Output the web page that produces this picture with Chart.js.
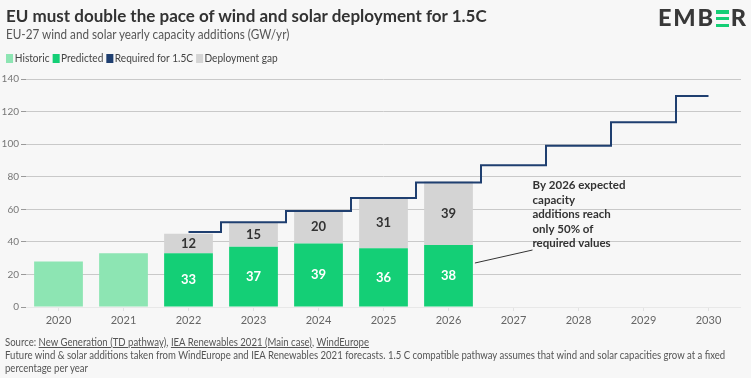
<!DOCTYPE html>
<html>
<head>
<meta charset="utf-8">
<script src="https://cdn.jsdelivr.net/npm/chart.js@4.4.0/dist/chart.umd.min.js"></script>
<style>
  body { margin: 0; background: #f7f7f7; font-family: Lato, "Noto Sans", sans-serif; }
  #wrap { position: relative; width: 751px; height: 378px; overflow: hidden; background: #f7f7f7; }
  #c { position: absolute; left: 0; top: 0; }
  .title { position: absolute; left: 6px; top: 5px; font-size: 17px; font-weight: 700; color: #333; white-space: nowrap; }
  .sub { position: absolute; left: 6px; top: 26px; font-size: 13px; color: #555; white-space: nowrap; transform: scaleX(0.9); transform-origin: 0 0; }
  .legend { position: absolute; left: 6px; top: 51px; font-size: 11.5px; color: #444; white-space: nowrap; transform: scaleX(0.88); transform-origin: 0 0; }
  .legend span.sw { display: inline-block; width: 8px; height: 9px; vertical-align: -1px; margin-right: 2px; }
  .legend span.it { margin-right: 3px; }
  .logo { position: absolute; left: 658px; top: 3px; font-size: 23.5px; font-weight: 900; color: #383838; letter-spacing: 1.8px; white-space: nowrap; }
  .logo .ge { display: inline-block; width: 13px; height: 17px; position: relative; margin: 0 2px 0 1px; vertical-align: -1px; }
  .logo .ge i { position: absolute; left: 0; width: 13px; height: 3.5px; background: #14cf76; }
  .foot { position: absolute; left: 5px; top: 335px; font-size: 11px; color: #555; line-height: 13px; white-space: nowrap; transform: scaleX(0.87); transform-origin: 0 0; }
  .foot u { text-decoration: underline; }
</style>
</head>
<body>
<div id="wrap">
  <canvas id="c" width="751" height="378"></canvas>
  <div class="title">EU must double the pace of wind and solar deployment for 1.5C</div>
  <div class="sub">EU-27 wind and solar yearly capacity additions (GW/yr)</div>
  <div class="legend">
    <span class="sw" style="background:#8de5b3"></span><span class="it">Historic</span><span class="sw" style="background:#14cf76"></span><span class="it">Predicted</span><span class="sw" style="background:#1f3f70"></span><span class="it">Required for 1.5C</span><span class="sw" style="background:#d4d4d4"></span><span class="it">Deployment gap</span>
  </div>
  <div class="logo">EMB<span class="ge"><i style="top:0px"></i><i style="top:6.7px"></i><i style="top:13.5px"></i></span>R</div>
  <div class="foot">
    Source: <u>New Generation (TD pathway)</u>, <u>IEA Renewables 2021 (Main case)</u>, <u>WindEurope</u><br>
    Future wind &amp; solar additions taken from WindEurope and IEA Renewables 2021 forecasts. 1.5 C compatible pathway assumes that wind and solar capacities grow at a fixed<br>
    percentage per year
  </div>
</div>
<script>
const years = ['2020', '2021', '2022', '2023', '2024', '2025', '2026', '2027', '2028', '2029', '2030'];
const historic = [28, 33, null, null, null, null, null, null, null, null, null];
const predicted = [null, null, 33, 37, 39, 36, 38, null, null, null, null];
const gap = [null, null, 12, 15, 20, 31, 39, null, null, null, null];
const required = [null, null, 46, 52, 59, 67, 76.5, 87, 99, 113.5, 129.5];
const yTicks = [0, 20, 40, 60, 80, 100, 120, 140];
const noteLines = ['By 2026 expected', 'capacity', 'additions reach', 'only 50% of', 'required values'];

const barLabels = {
  id: 'barLabels',
  afterDatasetsDraw(chart) {
    const ctx = chart.ctx;
    ctx.save();
    ctx.font = 'bold 13px Lato, "Noto Sans", sans-serif';
    ctx.textAlign = 'center';
    ctx.textBaseline = 'middle';
    chart.data.datasets.forEach((ds, i) => {
      if (!ds.labelColor) return;
      ctx.fillStyle = ds.labelColor;
      chart.getDatasetMeta(i).data.forEach((bar, j) => {
        if (ds.data[j] == null) return;
        ctx.fillText(String(ds.data[j]), bar.x, (bar.y + bar.base) / 2);
      });
    });
    ctx.restore();
  }
};

// callout next to the 2026 bar
const note = {
  id: 'note',
  afterDatasetsDraw(chart) {
    const ctx = chart.ctx;
    const xs = chart.scales.x, ys = chart.scales.y;
    const tx = xs.getPixelForValue(7) + 19;
    const ty = ys.getPixelForValue(74.5);
    const bar = chart.getDatasetMeta(1).data[6];
    ctx.save();
    ctx.strokeStyle = '#333';
    ctx.lineWidth = 1;
    ctx.beginPath();
    ctx.moveTo(bar.x + bar.width / 2 + 2, ys.getPixelForValue(27));
    ctx.lineTo(tx, ys.getPixelForValue(35));
    ctx.stroke();
    ctx.font = 'bold 11.5px Lato, "Noto Sans", sans-serif';
    ctx.fillStyle = '#333';
    ctx.textBaseline = 'middle';
    noteLines.forEach((t, k) => ctx.fillText(t, tx, ty + k * 14.5));
    ctx.restore();
  }
};

new Chart(document.getElementById('c'), {
  data: {
    labels: years,
    datasets: [
      { type: 'bar', label: 'Historic', data: historic, backgroundColor: '#8de5b3', stack: 'bars', order: 2 },
      { type: 'bar', label: 'Predicted', data: predicted, backgroundColor: '#14cf76', stack: 'bars', order: 2, labelColor: '#ffffff' },
      { type: 'bar', label: 'Deployment gap', data: gap, backgroundColor: '#d4d4d4', stack: 'bars', order: 2, labelColor: '#333333' },
      { type: 'line', label: 'Required for 1.5C', data: required, borderColor: '#1f3f70', borderWidth: 2,
        stepped: 'middle', pointRadius: 0, fill: false, stack: 'line', order: 1 }
    ]
  },
  options: {
    responsive: false,
    animation: false,
    categoryPercentage: 1,
    barPercentage: 0.75,
    layout: { padding: { top: 79, right: 10, bottom: 0, left: 0 } },
    plugins: { legend: { display: false }, tooltip: { enabled: false } },
    scales: {
      x: {
        stacked: true,
        border: { display: false },
        grid: { drawOnChartArea: false, offset: false, tickLength: 4, color: '#e2e2e2' },
        ticks: { color: '#666', font: { size: 11, family: 'Lato' }, padding: 3 },
        afterFit: s => { s.height = 71; }
      },
      y: {
        stacked: true,
        min: 0,
        max: 140,
        border: { display: false },
        afterBuildTicks: s => { s.ticks = yTicks.map(v => ({ value: v })); },
        grid: {
          tickLength: 5,
          tickColor: '#999',
          color: c => (c.tick && c.tick.value === 0) ? '#e8e8e8' : '#c9c9c9'
        },
        ticks: { color: '#777', font: { size: 10, family: 'Lato' }, padding: 2 },
        afterFit: s => { s.width = 26; }
      }
    }
  },
  plugins: [barLabels, note]
});
</script>
</body>
</html>
